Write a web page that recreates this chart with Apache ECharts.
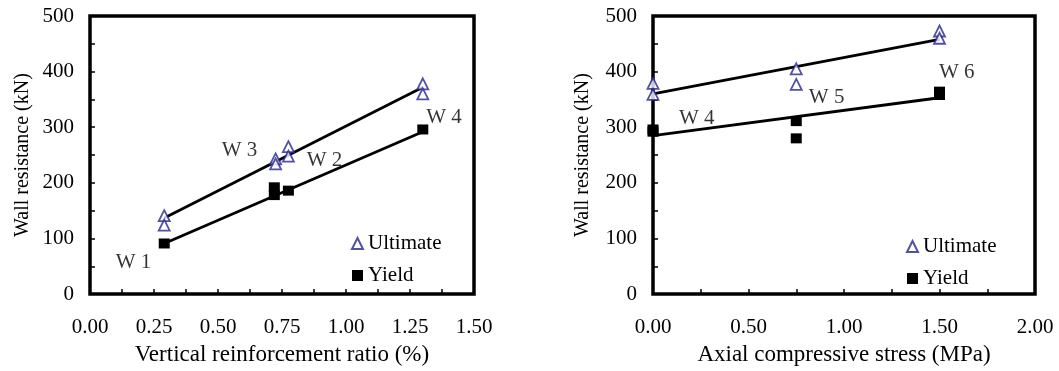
<!DOCTYPE html>
<html>
<head>
<meta charset="utf-8">
<script src="https://cdn.jsdelivr.net/npm/echarts@6/dist/echarts.min.js"></script>
<style>
html,body{margin:0;padding:0;background:#fff;}
#c{width:1059px;height:371px;}
</style>
</head>
<body>
<div id="c"></div>
<script>
// ---- Left panel: vertical reinforcement ratio ----
const leftUltimate = [[0.29,141],[0.29,124],[0.725,243],[0.725,234],[0.775,265],[0.775,248],[1.30,378],[1.30,360]];
const leftYield = [[0.29,91],[0.72,192],[0.72,178],[0.775,186],[1.30,296]];
const leftUltFit = [[0.29,137],[1.30,372]];
const leftYieldFit = [[0.29,91],[1.30,292]];
const leftTags = [[0.17,56,'W 1'],[0.584,259,'W 3'],[0.916,240,'W 2'],[1.383,318,'W 4']];
const leftXTicks = [0,0.25,0.5,0.75,1.0,1.25,1.5];

// ---- Right panel: axial compressive stress ----
const rightUltimate = [[0,379],[0,359],[0.75,405],[0.75,377],[1.5,473],[1.5,460]];
const rightYield = [[0,296],[0,292],[0.75,311],[0.75,280],[1.5,364],[1.5,358]];
const rightUltFit = [[0,360],[1.5,458]];
const rightYieldFit = [[0,285],[1.5,353]];
const rightTags = [[0.229,315,'W 4'],[0.909,353,'W 5'],[1.59,399,'W 6']];
const rightXTicks = [0,0.5,1.0,1.5,2.0];

const yTicks = [0,100,200,300,400,500];

const FONT = 'Liberation Serif';
const FS = 21;
const BLUE = '#26268f';

function xAxisFor(idx, ticks, name, gap){
  return {
    type:'value', gridIndex:idx, min:ticks[0], max:ticks[ticks.length-1],
    interval:ticks[1]-ticks[0],
    name:name, nameLocation:'middle', nameGap:gap,
    nameTextStyle:{fontFamily:FONT,fontSize:23,color:'#000'},
    axisLine:{show:false},
    axisTick:{show:true,inside:true,length:5,lineStyle:{color:'#000',width:1.5}},
    minorTick:{show:true,splitNumber:2,length:5,lineStyle:{color:'#000',width:1.5}},
    splitLine:{show:false},
    axisLabel:{fontFamily:FONT,fontSize:FS,color:'#000',margin:23,formatter:v=>v.toFixed(2)}
  };
}
function yAxisFor(idx, gap){
  return {
    type:'value', gridIndex:idx, min:yTicks[0], max:yTicks[yTicks.length-1],
    interval:yTicks[1]-yTicks[0],
    name:'Wall resistance (kN)', nameLocation:'middle', nameGap:gap, nameRotate:90,
    nameTextStyle:{fontFamily:FONT,fontSize:20,color:'#000'},
    axisLine:{show:false},
    axisTick:{show:true,inside:true,length:5,lineStyle:{color:'#000',width:1.5}},
    minorTick:{show:true,splitNumber:2,length:5,lineStyle:{color:'#000',width:1.5}},
    splitLine:{show:false},
    axisLabel:{fontFamily:FONT,fontSize:FS,color:'#000',margin:16}
  };
}
function seriesFor(idx, ult, yld, ultFit, yFit, tags){
  return [
    {name:'Ultimate',type:'scatter',xAxisIndex:idx,yAxisIndex:idx,data:ult,symbol:'triangle',symbolSize:[11,11],
     itemStyle:{color:'#fff',borderColor:BLUE,borderWidth:1.8},z:5},
    {name:'Yield',type:'scatter',xAxisIndex:idx,yAxisIndex:idx,data:yld,symbol:'rect',symbolSize:[11,10],
     itemStyle:{color:'#000',opacity:1},z:4},
    {type:'line',xAxisIndex:idx,yAxisIndex:idx,data:ultFit,symbol:'none',lineStyle:{color:'#000',width:2.8},z:3,silent:true},
    {type:'line',xAxisIndex:idx,yAxisIndex:idx,data:yFit,symbol:'none',lineStyle:{color:'#000',width:2.8},z:3,silent:true},
    {type:'scatter',xAxisIndex:idx,yAxisIndex:idx,data:tags,symbolSize:0,silent:true,z:6,
     label:{show:true,position:'inside',formatter:p=>p.data[2],fontFamily:FONT,fontSize:FS,color:'#000'}}
  ];
}
function legendFor(idx, left, top){
  return {
    left:left, top:top, orient:'vertical', itemWidth:11, itemHeight:11, itemGap:11,
    data:['Ultimate','Yield'],
    textStyle:{fontFamily:FONT,fontSize:FS,color:'#000'},
    selectedMode:false
  };
}

const chart = echarts.init(document.getElementById('c'));
chart.setOption({
  animation:false,
  backgroundColor:'#fff',
  grid:[
    {left:90,top:16,width:384,height:282,show:true,borderColor:'#000',borderWidth:3.5,backgroundColor:'transparent'},
    {left:653,top:16,width:382,height:286,show:true,borderColor:'#000',borderWidth:3.5,backgroundColor:'transparent'}
  ],
  xAxis:[
    xAxisFor(0,leftXTicks,'Vertical reinforcement ratio (%)',41),
    xAxisFor(1,rightXTicks,'Axial compressive stress (MPa)',42)
  ],
  yAxis:[yAxisFor(0,57),yAxisFor(1,60)],
  legend:[legendFor(0,346,228),legendFor(1,901,231)],
  series:[].concat(
    seriesFor(0,leftUltimate,leftYield,leftUltFit,leftYieldFit,leftTags),
    seriesFor(1,rightUltimate,rightYield,rightUltFit,rightYieldFit,rightTags)
  )
});
</script>
</body>
</html>
